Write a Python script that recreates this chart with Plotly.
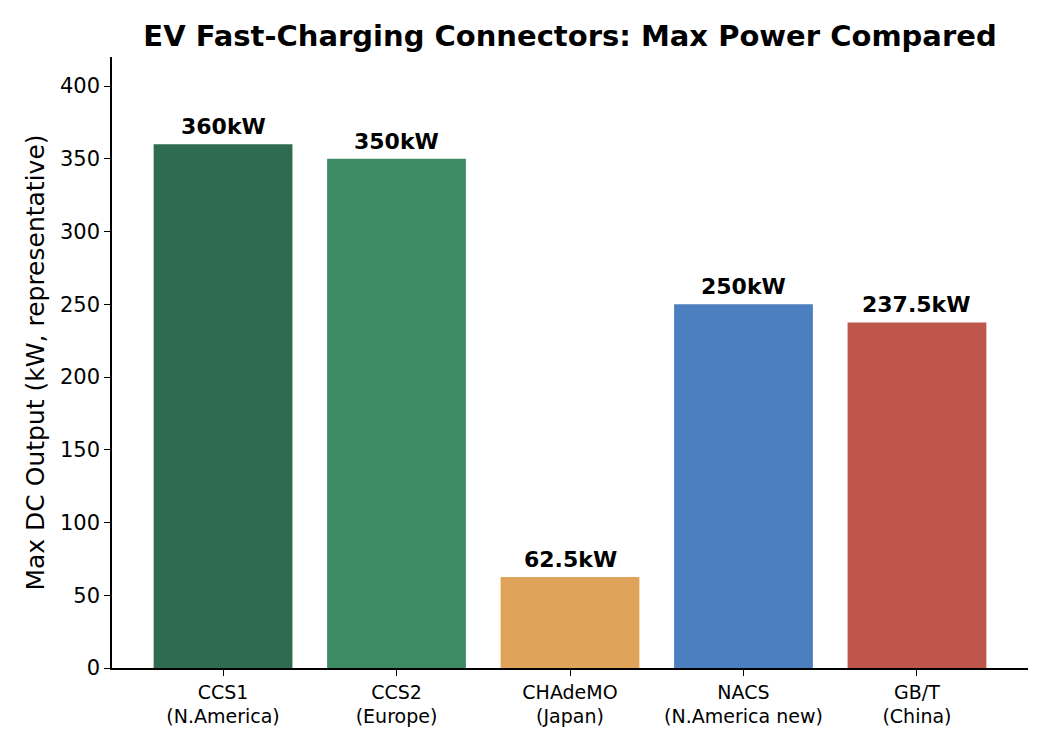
import plotly.graph_objects as go

connectors = ["CCS1<br>(N.America)", "CCS2<br>(Europe)", "CHAdeMO<br>(Japan)",
              "NACS<br>(N.America new)", "GB/T<br>(China)"]
max_kw = [360, 350, 62.5, 250, 237.5]
bar_labels = ["360kW", "350kW", "62.5kW", "250kW", "237.5kW"]
colors = ["#2E6B4F", "#3D8B65", "#DFA459", "#4C7FC0", "#BF564C"]
y_ticks = [0, 50, 100, 150, 200, 250, 300, 350, 400]

font = "DejaVu Sans"
xpos = list(range(len(connectors)))

fig = go.Figure()
fig.add_trace(go.Bar(
    x=xpos,
    y=max_kw,
    width=0.8,
    marker=dict(color=colors, line=dict(width=0)),
    hoverinfo="x+y",
))

# value labels sitting just above each bar
for x, y, lab in zip(xpos, max_kw, bar_labels):
    fig.add_annotation(x=x, y=y, text="<b>" + lab + "</b>", showarrow=False,
                       xanchor="center", yanchor="bottom", yshift=3,
                       font=dict(family=font, size=22, color="black"))

fig.update_layout(
    width=1050, height=750,
    paper_bgcolor="white", plot_bgcolor="white",
    margin=dict(l=112, r=22, t=57, b=82),
    showlegend=False,
    font=dict(family=font, size=21, color="black"),
    title=dict(text="<b>EV Fast-Charging Connectors: Max Power Compared</b>",
               x=0.5, xanchor="center", xref="paper",
               y=1 - 36 / 750, yanchor="middle",
               font=dict(family=font, size=29, color="black")),
)

fig.update_xaxes(
    range=[-0.64, 4.64],
    tickvals=xpos,
    ticktext=connectors,
    showline=True, linecolor="black", linewidth=1.5,
    ticks="outside", ticklen=6, tickwidth=1.3, tickcolor="black",
    showgrid=False, zeroline=False,
    tickfont=dict(family=font, size=19),
)
fig.update_yaxes(
    range=[0, 420],
    tickvals=y_ticks,
    showline=True, linecolor="black", linewidth=1.5,
    ticks="outside", ticklen=6, tickwidth=1.3, tickcolor="black",
    showgrid=False, zeroline=False,
    tickfont=dict(family=font, size=21),
    title=dict(text="Max DC Output (kW, representative)",
               font=dict(family=font, size=25), standoff=8),
)

fig.write_html("out.html", config={"displayModeBar": False},
               post_script="document.body.style.margin='0';")
